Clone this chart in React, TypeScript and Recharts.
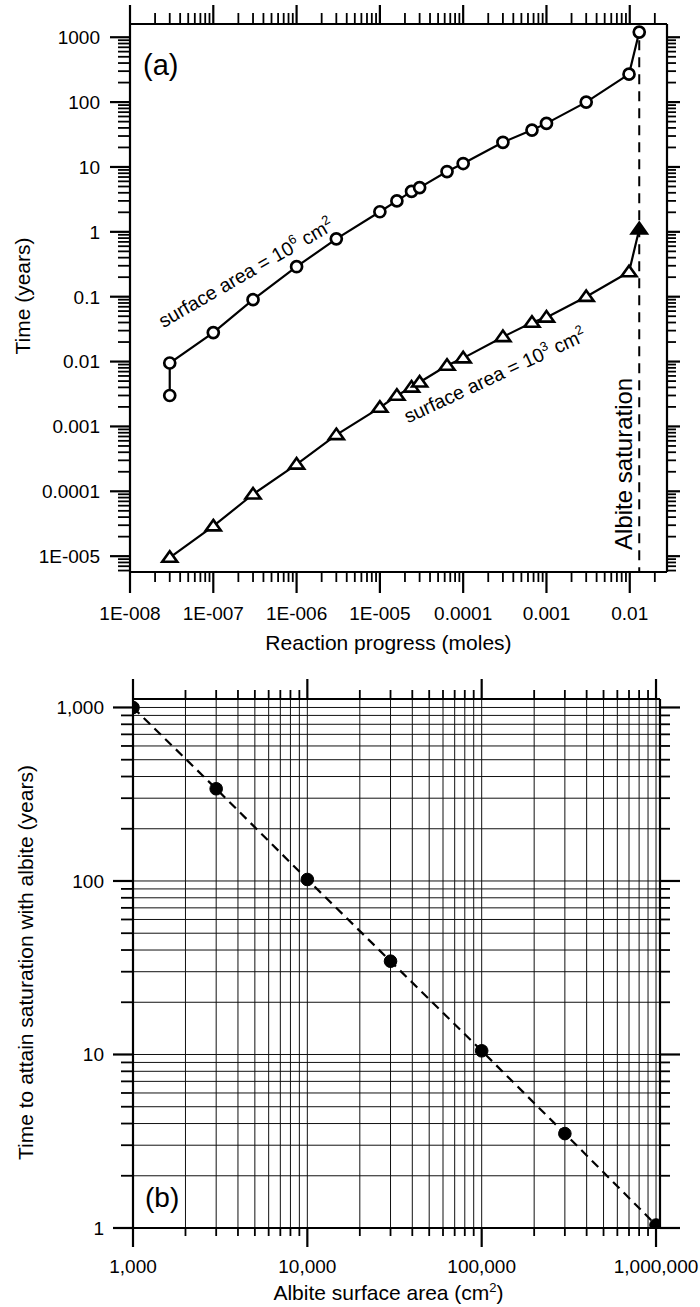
import React from 'react';
import { LineChart, Line, XAxis, YAxis, CartesianGrid, ReferenceLine, ReferenceDot, Label } from 'recharts';

const FONT = '"Liberation Sans", Arial, Helvetica, sans-serif';

// ---------- Panel (a) data ----------
const progressArea1e6 = [3e-8, 3e-8, 1e-7, 3e-7, 1e-6, 3e-6, 1e-5, 1.6e-5, 2.4e-5, 3e-5, 6.4e-5, 1e-4, 3e-4, 6.7e-4, 1e-3, 3e-3, 0.0098, 0.013];
const timeArea1e6 = [0.003, 0.0095, 0.028, 0.09, 0.29, 0.78, 2.04, 3.0, 4.2, 4.8, 8.5, 11.3, 24, 37, 47, 100, 270, 1200];
const progressArea1e3 = [3e-8, 1e-7, 3e-7, 1e-6, 3e-6, 1e-5, 1.6e-5, 2.4e-5, 3e-5, 6.4e-5, 1e-4, 3e-4, 6.7e-4, 1e-3, 3e-3, 0.0098, 0.013];
const timeArea1e3 = [9.5e-6, 2.9e-5, 9e-5, 2.6e-4, 7.4e-4, 1.95e-3, 3.0e-3, 4.0e-3, 4.8e-3, 8.7e-3, 0.0113, 0.024, 0.04, 0.048, 0.1, 0.24, 1.1];
const saturationProgress = 0.013;

const decadesAX = [1e-8, 1e-7, 1e-6, 1e-5, 1e-4, 1e-3, 1e-2];
const labelsAX = ['1E-008', '1E-007', '1E-006', '1E-005', '0.0001', '0.001', '0.01'];
const decadesAY = [1e-5, 1e-4, 1e-3, 1e-2, 0.1, 1, 10, 100, 1000];
const labelsAY = ['1E-005', '0.0001', '0.001', '0.01', '0.1', '1', '10', '100', '1000'];
const domainAX = [1e-8, 0.028];
const domainAY = [5.7e-6, 1600];

// ---------- Panel (b) data ----------
const surfaceArea = [1000, 3000, 10000, 30000, 100000, 300000, 1000000];
const timeToSaturation = [1000, 340, 102, 34.5, 10.5, 3.5, 1.04];
const decadesBX = [1000, 10000, 100000, 1000000];
const labelsBX = ['1,000', '10,000', '100,000', '1,000,000'];
const decadesBY = [1, 10, 100, 1000];
const labelsBY = ['1', '10', '100', '1,000'];
const domainBX = [1000, 1054000];
const domainBY = [1, 1119];

function logTicks(lo: number, hi: number) {
  const out: number[] = [];
  const e0 = Math.floor(Math.log10(lo)) - 1;
  const e1 = Math.ceil(Math.log10(hi)) + 1;
  for (let e = e0; e <= e1; e++) {
    for (let m = 1; m <= 9; m++) {
      const v = parseFloat((m * Math.pow(10, e)).toPrecision(6));
      if (v >= lo * 0.999999 && v <= hi * 1.000001) out.push(v);
    }
  }
  return out;
}

function findIdx(decades: number[], v: number) {
  return decades.findIndex((d) => Math.abs(d - v) / d < 1e-6);
}

function makeTick(orient: string, decades: number[], labels: string[] | null, majorLen: number, minorLen: number, labelOff: number) {
  return (props: any) => {
    const { x, y, payload } = props;
    const v = payload.value;
    const idx = findIdx(decades, v);
    const major = idx >= 0;
    const len = major ? majorLen : minorLen;
    let line = null;
    let text = null;
    const sw = major ? 2.2 : 1.8;
    if (orient === 'bottom') {
      line = <line x1={x} y1={y} x2={x} y2={y + len} stroke="#000" strokeWidth={sw} />;
      if (major && labels) text = <text x={x} y={y + labelOff} textAnchor="middle" fontSize={19} fontFamily={FONT} fill="#000">{labels[idx]}</text>;
    } else if (orient === 'top') {
      line = <line x1={x} y1={y} x2={x} y2={y - len} stroke="#000" strokeWidth={sw} />;
    } else if (orient === 'left') {
      line = <line x1={x} y1={y} x2={x - len} y2={y} stroke="#000" strokeWidth={sw} />;
      if (major && labels) text = <text x={x - labelOff} y={y + 6.8} textAnchor="end" fontSize={19} fontFamily={FONT} fill="#000">{labels[idx]}</text>;
    } else {
      line = <line x1={x} y1={y} x2={x + len} y2={y} stroke="#000" strokeWidth={sw} />;
    }
    return (
      <g>
        {line}
        {text}
      </g>
    );
  };
}

const ticksAX = logTicks(domainAX[0], domainAX[1]);
const ticksAY = logTicks(domainAY[0], domainAY[1]);
const ticksBX = logTicks(domainBX[0], domainBX[1]);
const ticksBY = logTicks(domainBY[0], domainBY[1]);

const circleData = progressArea1e6.map((x, i) => ({ x, y: timeArea1e6[i] }));
const triangleData = progressArea1e3.map((x, i) => ({ x, y: timeArea1e3[i] }));
const bData = surfaceArea.map((x, i) => ({ x, y: timeToSaturation[i] }));

const axisLineStyle = { stroke: '#000', strokeWidth: 2.2 };

const renderCircle = (p: any) => (
  <circle key={`c-${p.index}`} cx={p.cx} cy={p.cy} r={5.5} fill="#fff" stroke="#000" strokeWidth={2.7} />
);

const renderTriangle = (p: any) => {
  const last = p.index === triangleData.length - 1;
  const w = 7.5;
  const h = 10.5;
  const d = `M${p.cx},${p.cy - h * 0.6} L${p.cx + w},${p.cy + h * 0.4} L${p.cx - w},${p.cy + h * 0.4} Z`;
  return <path key={`t-${p.index}`} d={d} fill={last ? '#000' : '#fff'} stroke="#000" strokeWidth={2.6} strokeLinejoin="miter" />;
};

const renderFilled = (p: any) => <circle key={`f-${p.index}`} cx={p.cx} cy={p.cy} r={6.3} fill="#000" stroke="#000" strokeWidth={1} />;

function supText(main: string, sup: string) {
  return (
    <>
      <tspan>{main}</tspan>
      <tspan dy={-8} fontSize={13}>{sup}</tspan>
      <tspan dy={8}> cm</tspan>
      <tspan dy={-8} fontSize={13}>2</tspan>
    </>
  );
}

function rotatedLabel(content: React.ReactNode, angle: number, dx: number, dy: number, fontSize: number) {
  return (props: any) => {
    const vb = props.viewBox || {};
    const cx = (vb.x || 0) + (vb.width || 0) / 2 + dx;
    const cy = (vb.y || 0) + (vb.height || 0) / 2 + dy;
    return (
      <text x={cx} y={cy} transform={`rotate(${angle} ${cx} ${cy})`} textAnchor="middle" fontSize={fontSize} fontFamily={FONT} fill="#000">
        {content}
      </text>
    );
  };
}

function ChartA() {
  return (
    <LineChart width={700} height={660} margin={{ top: 4, right: 13, bottom: 28, left: 8 }}>
      <XAxis
        xAxisId="b"
        dataKey="x"
        type="number"
        scale="log"
        domain={domainAX}
        allowDataOverflow
        ticks={ticksAX}
        interval={0}
        tickSize={0}
        tickMargin={0}
        height={60}
        axisLine={axisLineStyle}
        tickLine={false}
        tick={makeTick('bottom', decadesAX, labelsAX, 21, 10, 48)}
      >
        <Label
          content={(p: any) => {
            const vb = p.viewBox;
            return (
              <text x={vb.x + vb.width / 2 - 10} y={vb.y + 78} textAnchor="middle" fontSize={21} fontFamily={FONT} fill="#000">
                Reaction progress (moles)
              </text>
            );
          }}
        />
      </XAxis>
      <XAxis
        xAxisId="t"
        orientation="top"
        dataKey="x"
        type="number"
        scale="log"
        domain={domainAX}
        allowDataOverflow
        ticks={ticksAX}
        interval={0}
        tickSize={0}
        tickMargin={0}
        height={20}
        axisLine={axisLineStyle}
        tickLine={false}
        tick={makeTick('top', decadesAX, null, 19, 11, 0)}
      />
      <YAxis
        yAxisId="l"
        type="number"
        scale="log"
        domain={domainAY}
        allowDataOverflow
        ticks={ticksAY}
        interval={0}
        tickSize={0}
        tickMargin={0}
        width={122}
        axisLine={axisLineStyle}
        tickLine={false}
        tick={makeTick('left', decadesAY, labelsAY, 20, 12, 30)}
      >
        <Label
          content={(p: any) => {
            const vb = p.viewBox;
            const lx = vb.x + 22;
            const ly = vb.y + vb.height / 2 - 2;
            return (
              <g>
                <text x={lx} y={ly} transform={`rotate(-90 ${lx} ${ly})`} textAnchor="middle" fontSize={21} fontFamily={FONT} fill="#000">
                  Time (years)
                </text>
                <text x={vb.x + vb.width + 13} y={vb.y + 51} fontSize={29} fontFamily={FONT} fill="#000">
                  (a)
                </text>
              </g>
            );
          }}
        />
      </YAxis>
      <YAxis
        yAxisId="r"
        orientation="right"
        type="number"
        scale="log"
        domain={domainAY}
        allowDataOverflow
        ticks={ticksAY}
        interval={0}
        tickSize={0}
        tickMargin={0}
        width={20}
        axisLine={axisLineStyle}
        tickLine={false}
        tick={makeTick('right', decadesAY, null, 13, 9, 0)}
      />
      <ReferenceLine
        xAxisId="b"
        yAxisId="l"
        segment={[{ x: saturationProgress, y: 900 }, { x: saturationProgress, y: domainAY[0] }]}
        stroke="#000"
        strokeWidth={2}
        strokeDasharray="10 7"
        ifOverflow="visible"
      />
      <Line xAxisId="b" yAxisId="l" data={circleData} dataKey="y" stroke="#000" strokeWidth={2.2} dot={renderCircle} isAnimationActive={false} />
      <Line xAxisId="b" yAxisId="l" data={triangleData} dataKey="y" stroke="#000" strokeWidth={2.2} dot={renderTriangle} isAnimationActive={false} />
      <ReferenceDot xAxisId="b" yAxisId="l" x={2.7e-7} y={0.19} r={1} fill="none" stroke="none" label={{ content: rotatedLabel(supText('surface area = 10', '6'), -30, 0, 0, 19.5) }} />
      <ReferenceDot xAxisId="b" yAxisId="l" x={2.6e-4} y={0.0049} r={1} fill="none" stroke="none" label={{ content: rotatedLabel(supText('surface area = 10', '3'), -25, 0, 0, 19.5) }} />
      <ReferenceDot xAxisId="b" yAxisId="l" x={saturationProgress} y={2.65e-4} r={1} fill="none" stroke="none" label={{ content: rotatedLabel('Albite saturation', -90, -7, 0, 24) }} />
    </LineChart>
  );
}

function ChartB() {
  return (
    <LineChart width={700} height={647} margin={{ top: 19, right: 20, bottom: 19, left: 13 }}>
      <CartesianGrid xAxisId="b" yAxisId="l" stroke="#111" strokeWidth={1} />
      <XAxis
        xAxisId="b"
        dataKey="x"
        type="number"
        scale="log"
        domain={domainBX}
        allowDataOverflow
        ticks={ticksBX}
        interval={0}
        tickSize={0}
        tickMargin={0}
        height={60}
        axisLine={axisLineStyle}
        tickLine={false}
        tick={makeTick('bottom', decadesBX, labelsBX, 19, 8, 45)}
      >
        <Label
          content={(p: any) => {
            const vb = p.viewBox;
            return (
              <text x={vb.x + vb.width / 2 - 8} y={vb.y + 72} textAnchor="middle" fontSize={21} fontFamily={FONT} fill="#000">
                <tspan>Albite surface area (cm</tspan>
                <tspan dy={-8} fontSize={13}>2</tspan>
                <tspan dy={8}>)</tspan>
              </text>
            );
          }}
        />
      </XAxis>
      <XAxis
        xAxisId="t"
        orientation="top"
        dataKey="x"
        type="number"
        scale="log"
        domain={domainBX}
        allowDataOverflow
        ticks={ticksBX}
        interval={0}
        tickSize={0}
        tickMargin={0}
        height={20}
        axisLine={axisLineStyle}
        tickLine={false}
        tick={makeTick('top', decadesBX, null, 20, 9, 0)}
      />
      <YAxis
        yAxisId="l"
        type="number"
        scale="log"
        domain={domainBY}
        allowDataOverflow
        ticks={ticksBY}
        interval={0}
        tickSize={0}
        tickMargin={0}
        width={120}
        axisLine={axisLineStyle}
        tickLine={false}
        tick={makeTick('left', decadesBY, labelsBY, 20, 12, 29)}
      >
        <Label
          content={(p: any) => {
            const vb = p.viewBox;
            const lx = vb.x + 20;
            const ly = vb.y + vb.height / 2 - 1;
            return (
              <g>
                <text x={lx} y={ly} transform={`rotate(-90 ${lx} ${ly})`} textAnchor="middle" fontSize={21} fontFamily={FONT} fill="#000">
                  Time to attain saturation with albite (years)
                </text>
                <text x={vb.x + vb.width + 12} y={vb.y + vb.height - 21} fontSize={28} fontFamily={FONT} fill="#000">
                  (b)
                </text>
              </g>
            );
          }}
        />
      </YAxis>
      <YAxis
        yAxisId="r"
        orientation="right"
        type="number"
        scale="log"
        domain={domainBY}
        allowDataOverflow
        ticks={ticksBY}
        interval={0}
        tickSize={0}
        tickMargin={0}
        width={20}
        axisLine={axisLineStyle}
        tickLine={false}
        tick={makeTick('right', decadesBY, null, 20, 10, 0)}
      />
      <Line xAxisId="b" yAxisId="l" data={bData} dataKey="y" stroke="#000" strokeWidth={2.2} strokeDasharray="9 6" dot={renderFilled} isAnimationActive={false} />
    </LineChart>
  );
}

export default function App() {
  return (
    <div style={{ position: 'absolute', left: 0, top: 0, width: 700, height: 1307, background: '#fff' }}>
      <div style={{ position: 'absolute', left: 0, top: 0 }}>
        <ChartA />
      </div>
      <div style={{ position: 'absolute', left: 0, top: 660 }}>
        <ChartB />
      </div>
    </div>
  );
}
